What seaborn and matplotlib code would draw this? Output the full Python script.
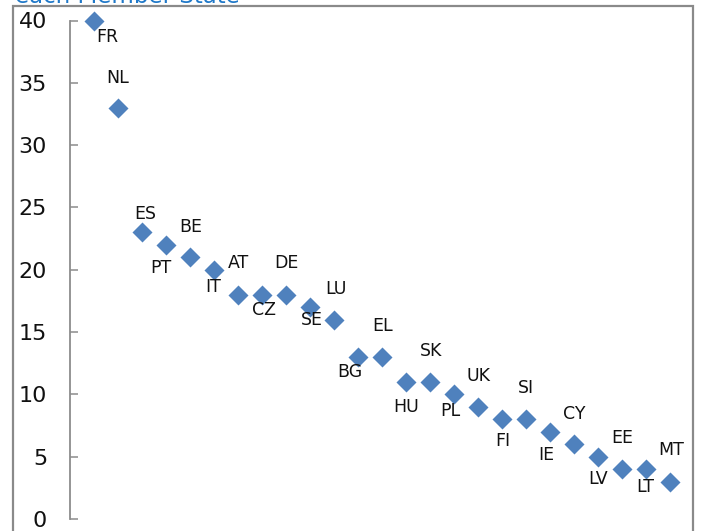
import matplotlib
matplotlib.use("Agg")
import matplotlib.pyplot as plt
import seaborn as sns
import pandas as pd
from matplotlib.patches import Rectangle

# ---- data ----
countries = ["FR", "NL", "ES", "PT", "BE", "IT", "AT", "CZ", "DE", "SE", "LU", "BG", "EL",
             "HU", "SK", "PL", "UK", "FI", "SI", "IE", "CY", "LV", "EE", "LT", "MT"]
values = [40, 33, 23, 22, 21, 20, 18, 18, 18, 17, 16, 13, 13,
          11, 11, 10, 9, 8, 8, 7, 6, 5, 4, 4, 3]
y_ticks = [0, 5, 10, 15, 20, 25, 30, 35, 40]
title_text = "each Member State"

# label offsets (pixels, dx right, dy down) - layout only
label_offsets_px = {
    "FR": (13, 16), "NL": (0, -30), "ES": (3, -18), "PT": (-5, 23.5), "BE": (1, -30.5),
    "IT": (-0.5, 17.5), "AT": (0, -31.5), "CZ": (2, 15), "DE": (0, -31.5), "SE": (2, 12.5),
    "LU": (1.5, -31), "BG": (-8, 15), "EL": (1, -30.5), "HU": (0, 25), "SK": (1, -30.5),
    "PL": (-4, 17), "UK": (1, -31), "FI": (1, 22), "SI": (0, -31), "IE": (-3.5, 23),
    "CY": (0.5, -30.5), "LV": (0.5, 22.5), "EE": (0, -31), "LT": (-1, 18), "MT": (1.5, -32),
}

df = pd.DataFrame({"pos": range(1, len(countries) + 1), "value": values, "country": countries})

sns.set_theme(style="white")
plt.rcParams["font.family"] = ["DejaVu Sans"]

W, H = 701, 531
fig = plt.figure(figsize=(W / 100, H / 100), dpi=100)
ax = fig.add_axes([70 / W, 1 - 519 / H, 624 / W, 498.5 / H])

sns.scatterplot(data=df, x="pos", y="value", marker="D", s=104, color="#4F81BD",
                linewidth=0, ax=ax, clip_on=False, zorder=3)

px2pt = 72 / 100
for c, p, v in zip(df["country"], df["pos"], df["value"]):
    dx, dy = label_offsets_px[c]
    ax.annotate(c, (p, v), xytext=(dx * px2pt, -dy * px2pt), textcoords="offset points",
                ha="center", va="center", fontsize=12.5, color="#111111", annotation_clip=False)

ax.set_xlim(0, 26)
ax.set_ylim(0, 40)
ax.set_yticks(y_ticks)
ax.set_yticklabels([str(t) for t in y_ticks])
ax.set_xticks([])
ax.set_xlabel("")
ax.set_ylabel("")
for s in ["top", "right", "bottom"]:
    ax.spines[s].set_visible(False)
ax.spines["left"].set_color("#8C8C8C")
ax.spines["left"].set_linewidth(1.3)
ax.tick_params(axis="y", direction="in", length=5.5, width=1.1, color="#8C8C8C",
               pad=16.5, labelsize=16, labelcolor="#111111", left=True)
ax.patch.set_alpha(0)

# outer chart border
fig.patches.append(Rectangle((13 / W, -0.05), (693 - 13) / W, 1.05 - 6.5 / H,
                             transform=fig.transFigure, fill=False,
                             edgecolor="#8A8A8A", linewidth=1.6, zorder=0))

# partially cut title
fig.text(15 / W, 1 - 3.3 / H, title_text, ha="left", va="baseline",
         fontsize=16.5, color="#1F78C8")

fig.savefig("out.png", dpi=100)
